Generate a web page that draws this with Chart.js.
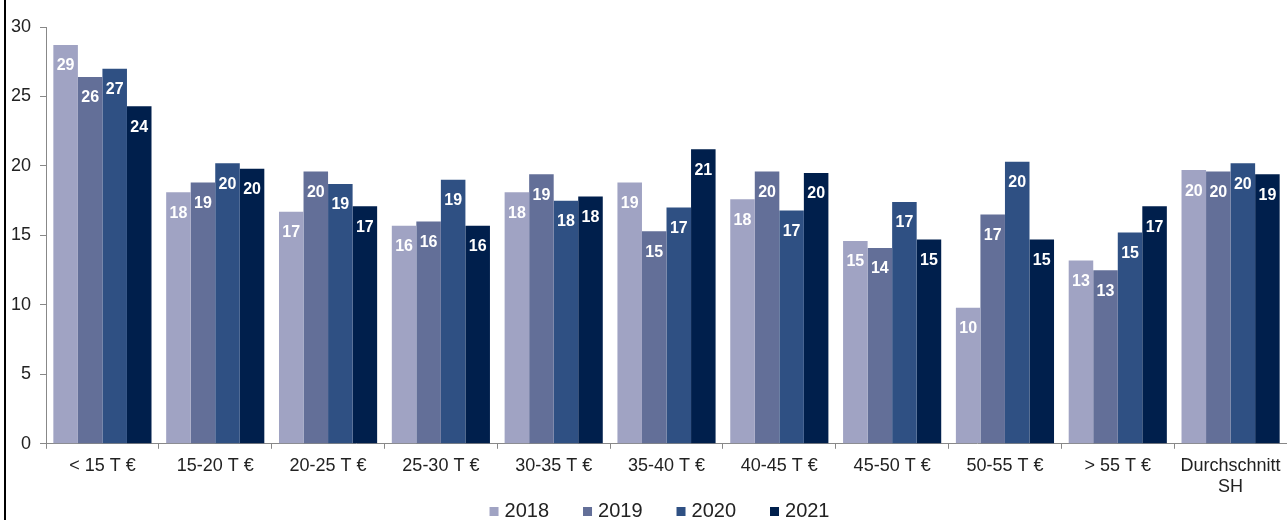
<!DOCTYPE html>
<html>
<head>
<meta charset="utf-8">
<script src="https://cdn.jsdelivr.net/npm/chart.js@4/dist/chart.umd.min.js"></script>
<style>
  html, body { margin: 0; padding: 0; background: #fff; }
  #wrap { position: relative; width: 1287px; height: 520px; }
</style>
</head>
<body>
<div id="wrap"><canvas id="chart" width="1287" height="520"></canvas></div>
<script>
// Categories (income brackets)
const categories = [
    '< 15 T €', '15-20 T €', '20-25 T €', '25-30 T €', '30-35 T €',
    '35-40 T €', '40-45 T €', '45-50 T €', '50-55 T €', '> 55 T €',
    ['Durchschnitt', 'SH']
];

// Series values
const values2018 = [28.7, 18.1, 16.7, 15.7, 18.1, 18.8, 17.6, 14.6, 9.8, 13.2, 19.7];
const values2019 = [26.4, 18.8, 19.6, 16.0, 19.4, 15.3, 19.6, 14.1, 16.5, 12.5, 19.6];
const values2020 = [27.0, 20.2, 18.7, 19.0, 17.5, 17.0, 16.8, 17.4, 20.3, 15.2, 20.2];
const values2021 = [24.3, 19.8, 17.1, 15.7, 17.8, 21.2, 19.5, 14.7, 14.7, 17.1, 19.4];

const seriesLabels = ['2018', '2019', '2020', '2021'];
const seriesColors = ['#A0A3C3', '#636F98', '#2F5083', '#001F4C'];

const FONT = '"Liberation Sans", Arial, sans-serif';

// White value labels inside the top of each bar
const valueLabels = {
    id: 'valueLabels',
    afterDatasetsDraw(chart) {
        const ctx = chart.ctx;
        ctx.save();
        ctx.fillStyle = '#fff';
        ctx.font = 'bold 16px ' + FONT;
        ctx.textAlign = 'center';
        ctx.textBaseline = 'middle';
        chart.data.datasets.forEach((ds, i) => {
            chart.getDatasetMeta(i).data.forEach((bar, j) => {
                ctx.fillText(String(Math.round(ds.data[j])), bar.x, bar.y + 21);
            });
        });
        ctx.restore();
    }
};

// Left frame line and bottom legend
const frameAndLegend = {
    id: 'frameAndLegend',
    afterDraw(chart) {
        const ctx = chart.ctx;
        ctx.save();
        ctx.fillStyle = '#000';
        ctx.fillRect(4, 0, 2, chart.height);

        ctx.font = '20px ' + FONT;
        ctx.textBaseline = 'alphabetic';
        ctx.textAlign = 'left';
        const box = 9, gap = 6, spacing = 34;
        const items = chart.data.datasets.map(ds => ({
            text: ds.label, color: ds.backgroundColor,
            w: box + gap + ctx.measureText(ds.label).width
        }));
        const total = items.reduce((s, it) => s + it.w, 0) + spacing * (items.length - 1);
        const area = chart.chartArea;
        let x = (area.left + area.right) / 2 - total / 2 - 7;
        const baseline = 516.5;
        items.forEach(it => {
            ctx.fillStyle = it.color;
            ctx.fillRect(x, baseline - 9.5, box, box);
            ctx.fillStyle = '#222';
            ctx.fillText(it.text, x + box + gap, baseline);
            x += it.w + spacing;
        });
        ctx.restore();
    }
};

new Chart(document.getElementById('chart'), {
    type: 'bar',
    data: {
        labels: categories,
        datasets: [
            { label: seriesLabels[0], data: values2018, backgroundColor: seriesColors[0] },
            { label: seriesLabels[1], data: values2019, backgroundColor: seriesColors[1] },
            { label: seriesLabels[2], data: values2020, backgroundColor: seriesColors[2] },
            { label: seriesLabels[3], data: values2021, backgroundColor: seriesColors[3] }
        ]
    },
    options: {
        responsive: false,
        animation: false,
        layout: { padding: { top: 27, left: 2, right: 0, bottom: 16 } },
        datasets: {
            bar: { categoryPercentage: 0.87, barPercentage: 1.0, borderWidth: 0 }
        },
        scales: {
            x: {
                grid: { offset: true, drawOnChartArea: false, tickLength: 5, color: '#888' },
                border: { color: '#888', width: 1 },
                ticks: { color: '#222', font: { family: FONT, size: 18 }, padding: 6, maxRotation: 0, autoSkip: false }
            },
            y: {
                min: 0,
                max: 30,
                grid: { drawOnChartArea: false, tickLength: 6, color: '#888' },
                border: { color: '#888', width: 1 },
                ticks: { stepSize: 5, color: '#222', font: { family: FONT, size: 18 }, padding: 9 }
            }
        },
        plugins: {
            legend: { display: false },
            tooltip: { enabled: false }
        }
    },
    plugins: [valueLabels, frameAndLegend]
});
</script>
</body>
</html>
